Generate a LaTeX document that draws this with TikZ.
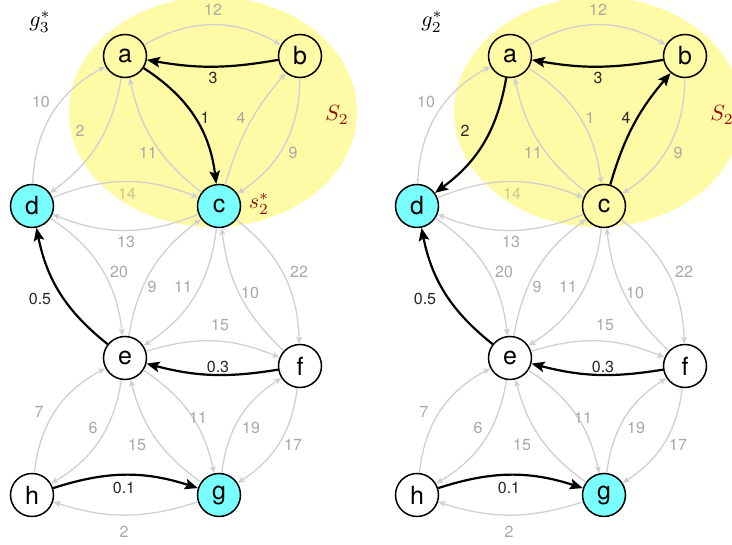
\documentclass[tikz,border=0pt]{standalone}
\usepackage{graphicx}
\usepackage{fontspec}
\setsansfont{TeX Gyre Heros}
\usetikzlibrary{arrows.meta}
\definecolor{ylw}{RGB}{255,250,165}
\definecolor{cyn}{RGB}{122,255,255}
\definecolor{edgegray}{RGB}{208,208,208}
\definecolor{labgray}{RGB}{168,168,168}
\definecolor{labfaint}{RGB}{205,200,150}
\definecolor{labdark}{RGB}{40,40,40}
\definecolor{dred}{RGB}{150,10,10}
\newcommand{\mlab}[1]{\scalebox{2.2}{$#1$}}
\tikzset{
  vtx/.style={circle, draw=black, line width=1.5pt, minimum size=43pt, inner sep=0pt,
    font=\sffamily\fontsize{25}{25}\selectfont},
  gedge/.style={draw=edgegray, line width=1.3pt, -{Stealth[length=7pt,width=6pt,inset=1.5pt]}},
  bedge/.style={draw=black, line width=2.2pt, -{Stealth[length=13pt,width=10.5pt,inset=2.5pt]}},
  lbl/.style={font=\sffamily\fontsize{16}{16}\selectfont, inner sep=0pt},
  glab/.style={lbl, text=labgray},
  blab/.style={lbl, text=labdark},
  mathlab/.style={inner sep=0pt},
}
% #1 = name prefix
\newcommand{\graphbody}[1]{%
  \fill[ylw] (213,433) ellipse [x radius=144, y radius=115];
  \node[vtx, fill=ylw] (#1a) at (125,489) {a};
  \node[vtx, fill=ylw] (#1b) at (300,489) {b};
  \node[vtx, fillC] (#1c) at (219,339) {c};
  \node[vtx, fill=cyn] (#1d) at (32,339) {d};
  \node[vtx, fill=white] (#1e) at (125,187) {e};
  \node[vtx, fill=white] (#1f) at (300,179) {f};
  \node[vtx, fill=white] (#1h) at (32,50) {h};
  \node[vtx, fill=cyn] (#1g) at (219,50) {g};
  \node[mathlab, text=dred] (#1S) at (337,430) {\mlab{S_2}};
  % edges
  \draw[gedge] (#1a) to[bend left=30] (#1b);
  \draw[bedge] (#1b) to[bend left=10] (#1a);
  \draw[edgeAC] (#1a) to[bend left=25] (#1c);
  \draw[gedge] (#1c) to[bend left=20] (#1a);
  \draw[edgeAD] (#1a) to[bend left=22] (#1d);
  \draw[gedge] (#1d) to[bend left=30] (#1a);
  \draw[edgeCB] (#1c) to[bend left=12] (#1b);
  \draw[gedge] (#1b) to[bend left=28] (#1c);
  \draw[gedge] (#1d) to[bend left=22] (#1c);
  \draw[gedge] (#1c) to[bend left=22] (#1d);
  \draw[bedge] (#1e) to[bend left=20] (#1d);
  \draw[gedge] (#1d) to[bend left=25] (#1e);
  \draw[gedge] (#1e) to[bend left=22] (#1c);
  \draw[gedge] (#1c) to[bend left=25] (#1e);
  \draw[gedge] (#1c) to[bend left=25] (#1f);
  \draw[gedge] (#1f) to[bend left=20] (#1c);
  \draw[gedge] (#1e) to[bend left=20] (#1f);
  \draw[bedge] (#1f) to[bend left=12] (#1e);
  \draw[gedge] (#1h) to[bend left=28] (#1e);
  \draw[gedge] (#1e) to[bend left=25] (#1h);
  \draw[gedge] (#1e) to[bend left=22] (#1g);
  \draw[gedge] (#1g) to[bend left=20] (#1e);
  \draw[gedge] (#1g) to[bend left=25] (#1f);
  \draw[gedge] (#1f) to[bend left=25] (#1g);
  \draw[bedge] (#1h) to[bend left=18] (#1g);
  \draw[gedge] (#1g) to[bend left=18] (#1h);
  % labels
  \node[glab] (#1l12) at (213,535) {12};
  \node[blab] (#1l3) at (213,467) {3};
  \node[labAC] (#1l1) at (205,427) {1};
  \node[glab] (#1l11a) at (148,392) {11};
  \node[labAD] (#1l2a) at (80,414) {2};
  \node[glab] (#1l10a) at (41,443) {10};
  \node[labCB] (#1l4) at (241,427) {4};
  \node[glab] (#1l9a) at (293,392) {9};
  \node[lbl, text=labfaint] (#1l14) at (127,351) {14};
  \node[glab] (#1l13) at (126,303) {13};
  \node[blab] (#1l05) at (40,246) {0.5};
  \node[glab] (#1l20) at (119,273) {20};
  \node[glab] (#1l9b) at (152,258) {9};
  \node[glab] (#1l11b) at (183,258) {11};
  \node[glab] (#1l10b) at (250,252) {10};
  \node[glab] (#1l22) at (299,273) {22};
  \node[glab] (#1l15a) at (220,220) {15};
  \node[blab] (#1l03) at (218,178) {0.3};
  \node[glab] (#1l7) at (39,133) {7};
  \node[glab] (#1l6) at (93,117) {6};
  \node[glab] (#1l11c) at (198,127) {11};
  \node[glab] (#1l15b) at (137,100) {15};
  \node[glab] (#1l19) at (251,117) {19};
  \node[glab] (#1l17) at (293,100) {17};
  \node[blab] (#1l01) at (124,57) {0.1};
  \node[glab] (#1l2b) at (124,13) {2};
}
\begin{document}
\begin{tikzpicture}[x=1pt,y=1pt]
  \useasboundingbox (0,0) rectangle (732,545);
  \clip (0,0) rectangle (732,545);
  \fill[white] (0,0) rectangle (732,545);
  \begin{scope}[
      fillC/.style={fill=cyn},
      edgeAC/.style={bedge}, labAC/.style={blab},
      edgeAD/.style={gedge}, labAD/.style={glab},
      edgeCB/.style={gedge}, labCB/.style={glab}]
    \graphbody{L}
    \node[mathlab, text=black] (gl) at (40,523) {\mlab{g_3^*}};
    \node[mathlab, text=dred] (sl) at (259,341) {\mlab{s_2^*}};
  \end{scope}
  \begin{scope}[xshift=385pt,
      fillC/.style={fill=ylw},
      edgeAC/.style={gedge}, labAC/.style={glab},
      edgeAD/.style={bedge}, labAD/.style={blab},
      edgeCB/.style={bedge}, labCB/.style={blab}]
    \graphbody{R}
    \node[mathlab, text=black] (gr) at (47,523) {\mlab{g_2^*}};
  \end{scope}
\end{tikzpicture}
\end{document}
